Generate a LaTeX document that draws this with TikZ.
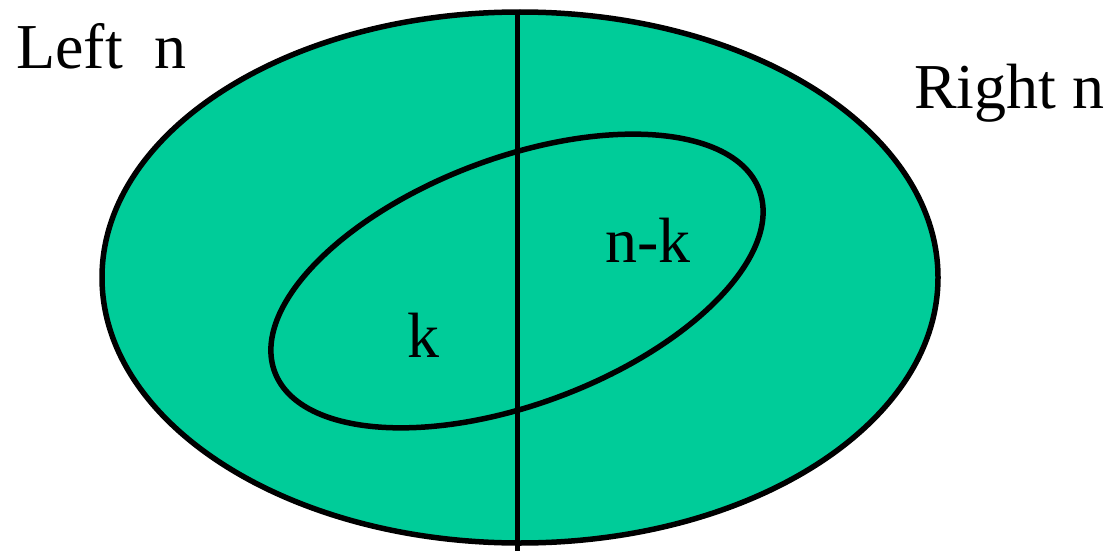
\documentclass[tikz,border=0pt]{standalone}
\usepackage{fontspec}
\setmainfont{Liberation Serif}
\definecolor{setgreen}{RGB}{0,204,153}
\begin{document}
\begin{tikzpicture}[x=1pt,y=1pt,
  border/.style={line width=5.5pt, draw=black},
  lbl/.style={inner sep=0pt, anchor=base west, font=\fontsize{64}{76}\selectfont}]
\useasboundingbox (0,0) rectangle (1106,-551);
% outer set
\draw[border, fill=setgreen] (520,-277.5) ellipse [x radius=418, y radius=265.5];
% inner set
\draw[border, rotate around={20.6:(517,-281)}] (517,-281) ellipse [x radius=258.8, y radius=123.1];
% dividing line
\coordinate (vtop) at (517.5,-14);
\coordinate (vbot) at (517.5,-551);
\draw[border] (vtop) -- (vbot);
% labels
\node[lbl] (left) at (16,-69) {Left~ n};
\node[lbl] (right) at (914,-108) {Right n};
\node[lbl] (nk) at (605,-262) {n-k};
\node[lbl] (k) at (407,-357) {k};
\end{tikzpicture}
\end{document}
